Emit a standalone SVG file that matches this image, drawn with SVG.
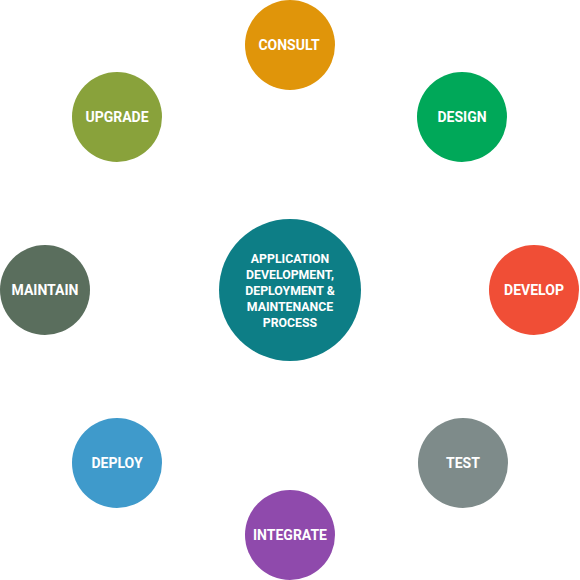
<svg xmlns="http://www.w3.org/2000/svg" width="580" height="580" viewBox="0 0 580 580">
<style>
.t{font-family:Roboto,"Liberation Sans",sans-serif;font-weight:bold;fill:#fff;text-anchor:middle}
.o{font-size:14px}
.c{font-size:12.3px}
</style>
<rect width="580" height="580" fill="#fff"/>
<g id="connectors"></g>
<g id="center"><circle cx="290" cy="290" r="71" fill="#0D7E86"/>
<text class="t c" x="290" y="263">APPLICATION</text>
<text class="t c" x="290" y="279">DEVELOPMENT,</text>
<text class="t c" x="290" y="295">DEPLOYMENT &amp;</text>
<text class="t c" x="290" y="311">MAINTENANCE</text>
<text class="t c" x="290" y="327">PROCESS</text></g>
<g id="consult"><circle cx="290" cy="45" r="45" fill="#E0950A"/><text class="t o" x="289" y="50">CONSULT</text></g>
<g id="design"><circle cx="462" cy="117" r="45" fill="#00A859"/><text class="t o" x="462" y="122">DESIGN</text></g>
<g id="develop"><circle cx="534" cy="290" r="45" fill="#F04E36"/><text class="t o" x="534" y="295">DEVELOP</text></g>
<g id="test"><circle cx="463" cy="463" r="45" fill="#7E8B8A"/><text class="t o" x="463" y="468">TEST</text></g>
<g id="integrate"><circle cx="290" cy="535" r="45" fill="#8F4AAC"/><text class="t o" x="290" y="540">INTEGRATE</text></g>
<g id="deploy"><circle cx="117" cy="463" r="45" fill="#3F9ACB"/><text class="t o" x="117" y="468">DEPLOY</text></g>
<g id="maintain"><circle cx="45" cy="290" r="45" fill="#5A6E5D"/><text class="t o" x="45" y="295">MAINTAIN</text></g>
<g id="upgrade"><circle cx="117" cy="117" r="45" fill="#89A23B"/><text class="t o" x="117" y="122">UPGRADE</text></g>
</svg>
